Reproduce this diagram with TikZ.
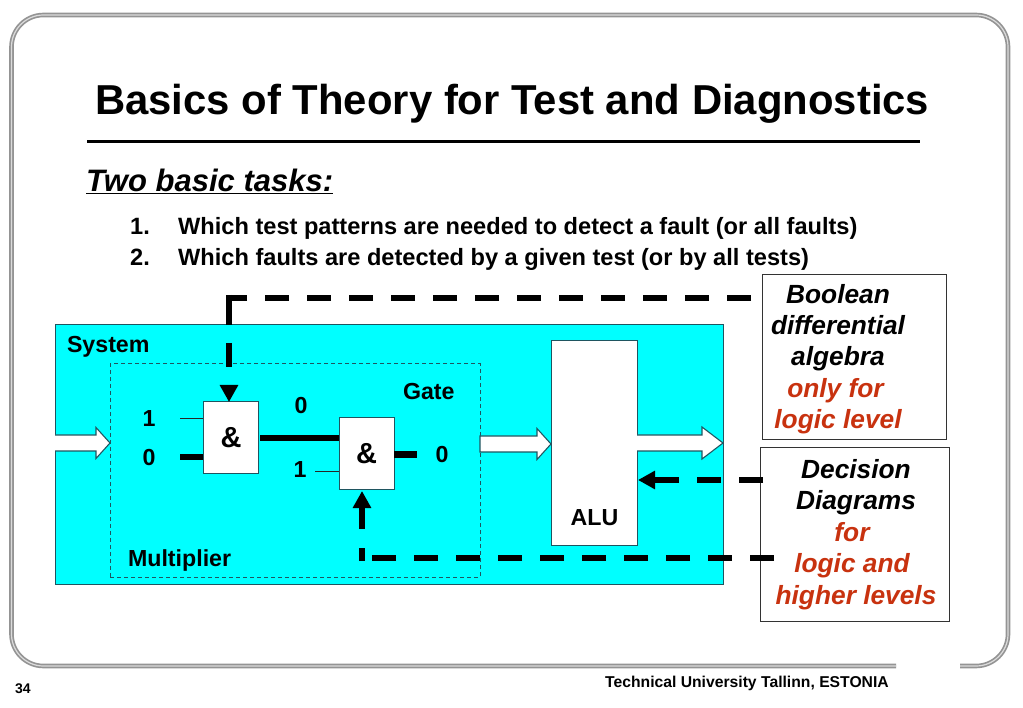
\documentclass[tikz,border=0pt]{standalone}
\usepackage{fontspec}
\setmainfont{Liberation Sans}
\usetikzlibrary{arrows.meta,calc}
\definecolor{sysfill}{HTML}{00FFFF}
\definecolor{edgeteal}{HTML}{1F5560}
\definecolor{redtext}{HTML}{C8320F}
\newcommand{\fsz}[1]{\fontsize{#1pt}{#1pt}\selectfont\bfseries}
\tikzset{
  x=1pt,y=-1pt,
  plate/.style={draw=edgeteal,line width=1pt,fill=white,inner sep=0pt,outer sep=0pt},
  notebox/.style={draw=black!80,line width=1pt,fill=white,inner sep=0pt,outer sep=0pt},
  lbl/.style={anchor=base,inner sep=0pt,outer sep=0pt,font=\fsz{23.2}},
  notetext/.style={align=center,inner sep=0pt,outer sep=0pt,anchor=base,font={\fontsize{26.3pt}{31.5pt}\selectfont\bfseries\itshape}},
  heavy/.style={line width=6pt,black},
  thinwire/.style={line width=.8pt,black!85},
  dashedheavy/.style={heavy,dash pattern=on 24pt off 18pt},
  headtip/.style={-{Triangle[length=17pt,width=17.5pt]}},
  blockarrow/.style={draw=edgeteal,line width=1.1pt,fill=white,line join=miter},
  frameouter/.style={draw=black!42,line width=4.6pt,rounded corners=32pt},
  frameinner/.style={draw=black!14,line width=1.2pt,rounded corners=32pt}
}
\begin{document}
\begin{tikzpicture}
\useasboundingbox (0,0) rectangle (1023,708);
\fill[white] (0,0) rectangle (1023,708);
% frame
\draw[frameouter] (960,666) -- (1008,666) -- (1008,15) -- (11.5,15) -- (11.5,666) -- (896,666);
\draw[frameinner] (960,666) -- (1008,666) -- (1008,15) -- (11.5,15) -- (11.5,666) -- (896,666);
% title
\node[anchor=base west,inner sep=0pt] (title) at (95,115) {\fsz{41.85}Basics of Theory for Test and Diagnostics};
\draw[line width=3pt,black] (87,142) -- (920,142);
\node[anchor=base west,inner sep=0pt] (tasks) at (86,191.5) {\fsz{31}\itshape\underline{Two basic tasks:}};
\node[anchor=base west,inner sep=0pt] (n1) at (130,234.5) {\fsz{23.6}1.};
\node[anchor=base west,inner sep=0pt] (t1) at (178,234.5) {\fsz{23.6}Which test patterns are needed to detect a fault (or all faults)};
\node[anchor=base west,inner sep=0pt] (n2) at (130,265.5) {\fsz{23.6}2.};
\node[anchor=base west,inner sep=0pt] (t2) at (178,265.5) {\fsz{23.6}Which faults are detected by a given test (or by all tests)};
% system
\node[draw=edgeteal,line width=1pt,fill=sysfill,inner sep=0pt,outer sep=0pt,minimum width=668pt,minimum height=259pt] (sys) at (389,454.5) {};
\node[draw=edgeteal,line width=1pt,dash pattern=on 4pt off 3pt,inner sep=0pt,outer sep=0pt,minimum width=370pt,minimum height=213pt] (mult) at (295,470.5) {};
% block arrows
\draw[blockarrow] (55,435) -- (96,435) -- (96,427.5) -- (110,443) -- (96,458.5) -- (96,451) -- (55,451);
\draw[blockarrow] (480,436) -- (537,436) -- (537,428.5) -- (551,444) -- (537,459.5) -- (537,452) -- (480,452) -- cycle;
\node[plate,minimum width=86pt,minimum height=204pt] (alu) at (594,443) {};
\draw[blockarrow] (637,435) -- (702,435) -- (702,427) -- (723,443) -- (702,459) -- (702,451) -- (637,451);
\node[lbl] (alul) at (594.5,525) {ALU};
% gates
\node[plate,minimum width=55pt,minimum height=71pt] (g1) at (230.5,437.5) {};
\node[plate,minimum width=55pt,minimum height=71pt] (g2) at (366.5,453.5) {};
\node[lbl,font=\fsz{29}] (g1l) at (231,448) {\&};
\node[lbl,font=\fsz{29}] (g2l) at (366.5,464) {\&};
% wires
\coordinate (a1) at (180,418);
\coordinate (a2) at (180,457);
\coordinate (b2) at (315,471);
\coordinate (o2) at (417,454.5);
\draw[thinwire] (a1) -- (a1 -| g1.west);
\draw[heavy] (a2) -- (a2 -| g1.west);
\draw[thinwire] (b2) -- (b2 -| g2.west);
\draw[heavy] ($(g1.east)+(2,1)$) -- ($(g1.east)+(81,1)$);
\draw[heavy] (o2 -| g2.east) -- (o2);
% labels
\node[lbl,anchor=base west] (syslab) at (67,353) {System};
\node[lbl,anchor=base west] (gatelab) at (403,400) {Gate};
\node[lbl,anchor=base west] (multlab) at (128,566) {Multiplier};
\node[lbl] (v1) at (149,427) {1};
\node[lbl] (v2) at (149,465) {0};
\node[lbl] (v3) at (301,414) {0};
\node[lbl] (v4) at (300,478) {1};
\node[lbl] (v5) at (442,463) {0};
% note boxes
\node[notebox,minimum width=184pt,minimum height=165pt] (bool) at (854,357.5) {};
\node[notebox,minimum width=189pt,minimum height=173pt] (dd) at (854.5,534.5) {};
\node[notetext] (booltext) at (838,429) {Boolean\\differential\\algebra\\\textcolor{redtext}{only for\hspace*{5pt}}\\\textcolor{redtext}{logic level}};
\node[notetext] (ddtext) at (856,604) {Decision\\Diagrams\\\textcolor{redtext}{\hspace*{-8pt}for}\\\textcolor{redtext}{\hspace*{-8pt}logic and}\\\textcolor{redtext}{higher levels}};
% dashed connectors
\coordinate (c1) at (229,298);
\draw[dashedheavy,dash phase=31pt,shorten >=-3pt] (bool.west |- c1) -- (c1);
\draw[heavy,headtip,dash pattern=on 30pt off 18pt on 24pt off 40pt,shorten <=-3pt] (c1) -- (c1 |- g1.north);
\coordinate (s3) at (763,480);
\draw[heavy,headtip,dash pattern=on 24pt off 18pt on 24pt off 18pt on 200pt,shorten >=1pt] (s3) -- (s3 -| alu.east);
\coordinate (s4) at (774,558);
\coordinate (c4) at (362,558);
\draw[dashedheavy] (s4) -- (c4);
\draw[heavy,headtip,dash pattern=on 13pt off 19pt on 200pt,shorten <=-3pt,shorten >=2pt] (c4) -- (c4 |- g2.south);
% footer
\node[anchor=base west,inner sep=0pt] (foot) at (605,687) {\fsz{15.7}Technical University Tallinn, ESTONIA};
\node[anchor=base west,inner sep=0pt] (page) at (15,693) {\fsz{14}34};
\end{tikzpicture}
\end{document}
